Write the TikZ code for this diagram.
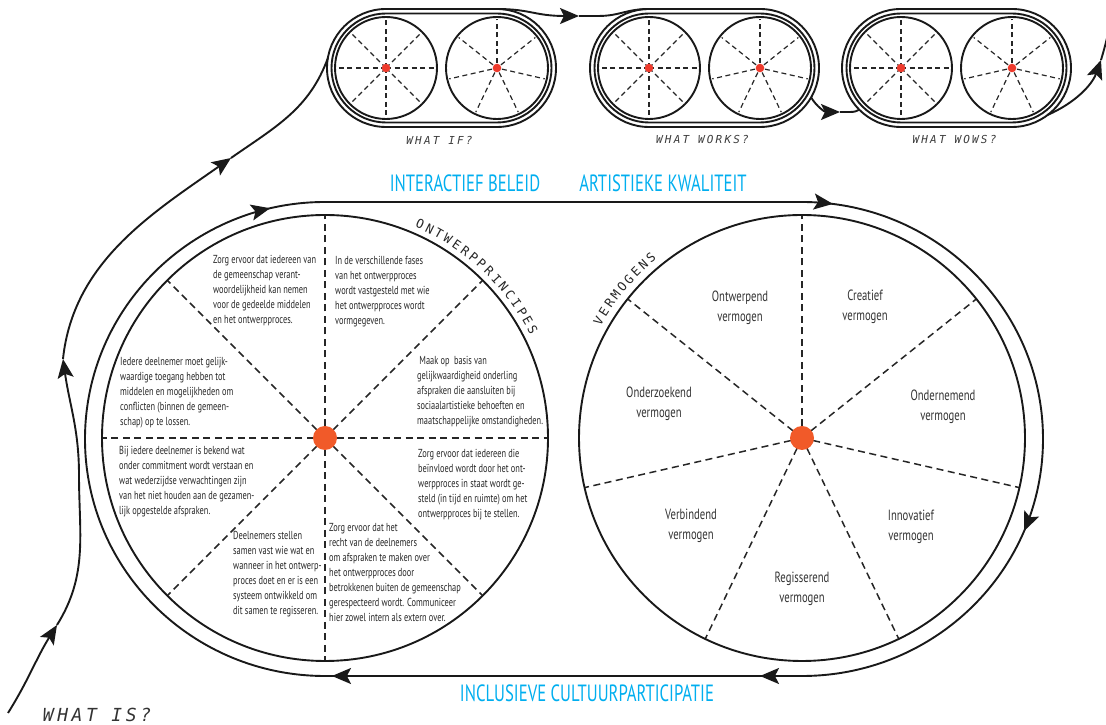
\documentclass[tikz,border=0pt]{standalone}
\usepackage{fontspec}
\usetikzlibrary{arrows.meta,decorations.markings,calc}
\newfontfamily\condf[FakeStretch=0.72]{PT Sans}
\newfontfamily\headf[FakeStretch=0.71]{PT Sans}
\newfontfamily\monof[LetterSpace=20]{DejaVu Sans Mono}
\newfontfamily\arcf{DejaVu Sans Mono}
\definecolor{cyanl}{HTML}{00AEEF}
\definecolor{dotor}{HTML}{F15A29}
\definecolor{dotred}{HTML}{EE3A2C}
\definecolor{graytxt}{HTML}{3C3C3C}
\tikzset{
  bigtip/.tip={Stealth[length=19pt,width=16pt,inset=4pt]},
  ring/.style={line width=1.9pt, draw=black!90},
  wspoke/.style={line width=1.2pt, dash pattern=on 5pt off 3.5pt, draw=black!85},
  bspoke/.style={line width=1.5pt, dash pattern=on 7pt off 4.5pt, draw=black!85},
  flow/.style={line width=1.9pt, draw=black!90},
  flowtip/.style={line width=1.9pt, draw=black!90, -{bigtip}},
  rule/.style={font=\condf\fontsize{11.6}{15}\selectfont, align=left, inner sep=0pt, anchor=north west, text=black!85},
  capa/.style={font=\condf\fontsize{14.8}{20.5}\selectfont, align=center, inner sep=0pt, text=black!80},
  theme/.style={font=\headf\fontsize{23.5}{23.5}\selectfont, text=cyanl, inner sep=0pt},
  what/.style={font=\monof\itshape\fontsize{11}{11}\selectfont, text=graytxt, inner sep=0pt},
  arcl/.style={font=\arcf\fontsize{12.5}{12.5}\selectfont, inner sep=0pt, text=black!85}
}
\begin{document}
\begin{tikzpicture}[x=1pt,y=1pt]
\useasboundingbox (0,0) rectangle (1106,725);

% ---------- top belts ----------
\foreach \a/\b/\lab [count=\i] in {386/497/{WHAT IF?}, 649/760/{WHAT WORKS?}, 901/1012/{WHAT WOWS?}}{
  \draw[ring] (\a,716) -- (\b,716) arc[start angle=90,end angle=-90,radius=59] -- (\a,598) arc[start angle=270,end angle=90,radius=59] -- cycle;
  \draw[ring] (\a,711.5) -- (\b,711.5) arc[start angle=90,end angle=-90,radius=54.5] -- (\a,602.5) arc[start angle=270,end angle=90,radius=54.5] -- cycle;
  \coordinate (w\i a) at (\a,657);
  \coordinate (w\i b) at (\b,657);
  \draw[ring] (w\i a) circle[radius=51];
  \draw[ring] (w\i b) circle[radius=51];
  \foreach \t in {0,45,...,315} \draw[wspoke] (w\i a) -- ++(\t:50);
  \foreach \k in {0,...,6} \draw[wspoke] (w\i b) ++({90+\k*360/7}:5) -- ++({90+\k*360/7}:44);
  \fill[dotred] (w\i a) circle[radius=4.3];
  \fill[dotred] (w\i b) circle[radius=4.3];
  \node[what] (wl\i) at ({(\a+\b)/2-2},585) {\lab};
}

% ---------- connectors between belts ----------
\coordinate (c1s) at (497,716);
\coordinate (c1t) at (579,709);
\coordinate (c1e) at (649,716);
\draw[flowtip] (c1s) .. controls (530,716) and (535,709) .. (c1t);
\draw[flow] (c1t) -- (598,709) .. controls (620,709) and (626,716) .. (c1e);

\coordinate (c2s) at (811.1,627.5);
\coordinate (c2t) at (840,613);
\coordinate (c2e) at (859.3,615.3);
\draw[flowtip] (c2s) .. controls (817,618) and (825,613) .. (c2t);
\draw[flow] (c2t) -- (850,613) .. controls (855,613) and (857,614) .. (c2e);

\coordinate (c3s) at (1047.5,610);
\coordinate (c3t) at (1101,665);
\coordinate (c3e) at (1110,700);
\draw[flowtip] (c3s) .. controls (1075,622) and (1092,640) .. (c3t);
\draw[flow] (c3t) .. controls (1104,675) and (1107,686) .. (c3e);

% ---------- WHAT IS curve ----------
\coordinate (ia) at (8,12);
\coordinate (ib) at (57,100);
\coordinate (ic) at (79,250);
\coordinate (id) at (63,366);
\coordinate (ie) at (231,567);
\coordinate (ig) at (327.9,667);
\draw[flowtip] (ia) to[out=58,in=238] (ib);
\draw[flow] (ib) to[out=58,in=-90] (ic);
\draw[flowtip] (ic) to[out=90,in=-82] (id);
\draw[flowtip] (id) to[out=84,in=215,looseness=0.95] (ie);
\draw[flow] (ie) to[out=35,in=250] (ig);
\node[font=\monof\itshape\fontsize{18}{18}\selectfont, text=black!80, inner sep=0pt] (whatis) at (97,10) {WHAT IS?};

% ---------- outer loop ----------
\coordinate (lt) at (325,523);
\coordinate (rt) at (802,523);
\coordinate (lb) at (325,49);
\draw[ring, postaction={decorate}, decoration={markings,
   mark=at position 508pt with {\arrow{bigtip}},
   mark=at position 947pt with {\arrow{bigtip}},
   mark=at position 1270pt with {\arrow{bigtip}},
   mark=at position 1698pt with {\arrow{bigtip}},
   mark=at position 2399pt with {\arrow{bigtip}}}]
  (lt) -- (rt) arc[start angle=90,end angle=-90,x radius=241,y radius=237] -- (lb) arc[start angle=270,end angle=90,x radius=240,y radius=237] -- cycle;

% ---------- big circles ----------
\coordinate (L) at (325,287);
\coordinate (R) at (802,287);
\foreach \t in {0,45,...,315} \draw[bspoke] (L) -- ++(\t:223);
\foreach \k in {0,...,6} \draw[bspoke] (R) -- ++({90+\k*360/7}:223);
\draw[ring] (L) circle[radius=223];
\draw[ring] (R) circle[radius=223];
\fill[dotor] (L) circle[radius=12];
\fill[dotor] (R) circle[radius=12];

% arc titles
\foreach \ch [count=\i from 0] in {O,N,T,W,E,R,P,P,R,I,N,C,I,P,E,S}{
  \pgfmathsetmacro\ang{66-\i*2.57}
  \pgfmathsetmacro\rot{\ang-90}
  \path (L) ++(\ang:234) node[arcl, rotate=\rot] (op\i) {\ch};
}
\foreach \ch [count=\i from 0] in {V,E,R,M,O,G,E,N,S}{
  \pgfmathsetmacro\ang{150-\i*2.5}
  \pgfmathsetmacro\rot{\ang-90}
  \path (R) ++(\ang:235) node[arcl, rotate=\rot] (vm\i) {\ch};
}

% ---------- principles text ----------
\node[rule] (p1) at (213,469.5) {Zorg ervoor dat iedereen van\\de gemeenschap verant-\\woordelijkheid kan nemen\\voor de gedeelde middelen\\en het ontwerpproces.};
\node[rule] (p2) at (335,468.5) {In de verschillende fases\\van het ontwerpproces\\wordt vastgesteld met wie\\het ontwerpproces wordt\\vormgegeven.};
\node[rule] (p3) at (417,368.5) {\ Maak op\ \ basis van\\gelijkwaardigheid onderling\\afspraken die aansluiten bij\\sociaalartistieke behoeften en\\maatschappelijke omstandigheden.};
\node[rule] (p4) at (120,367.5) {Iedere deelnemer moet gelijk-\\waardige toegang hebben tot\\middelen en mogelijkheden om\\conflicten (binnen de gemeen-\\schap) op te lossen.};
\node[rule] (p5) at (119,278.5) {Bij iedere deelnemer is bekend wat\\onder commitment wordt verstaan en\\wat wederzijdse verwachtingen zijn\\van het niet houden aan de gezamen-\\lijk opgestelde afspraken.};
\node[rule] (p6) at (233,193.5) {Deelnemers stellen\\samen vast wie wat en\\wanneer in het ontwerp-\\proces doet en er is een\\systeem ontwikkeld om\\dit samen te regisseren.};
\node[rule] (p7) at (329,201.5) {Zorg ervoor dat het\\recht van de deelnemers\\om afspraken te maken over\\het ontwerpproces door\\betrokkenen buiten de gemeenschap\\gerespecteerd wordt. Communiceer\\hier zowel intern als extern over.};
\node[rule] (p8) at (418,275.5) {Zorg ervoor dat iedereen die\\beïnvloed wordt door het ont-\\werpproces in staat wordt ge-\\steld (in tijd en ruimte) om het\\ontwerpproces bij te stellen.};

% ---------- vermogens ----------
\node[capa] (v1) at (740,417) {Ontwerpend\\vermogen};
\node[capa] (v2) at (865,418) {Creatief\\vermogen};
\node[capa] (v3) at (659,321) {Onderzoekend\\vermogen};
\node[capa] (v4) at (943,318) {Ondernemend\\vermogen};
\node[capa] (v5) at (691,199) {Verbindend\\vermogen};
\node[capa] (v6) at (911,198) {Innovatief\\vermogen};
\node[capa] (v7) at (802,136) {Regisserend\\vermogen};

% ---------- themes ----------
\node[theme] (t1) at (465,542) {INTERACTIEF BELEID};
\node[theme] (t2) at (663,542) {ARTISTIEKE KWALITEIT};
\node[theme] (t3) at (587,32) {INCLUSIEVE CULTUURPARTICIPATIE};
\end{tikzpicture}
\end{document}
